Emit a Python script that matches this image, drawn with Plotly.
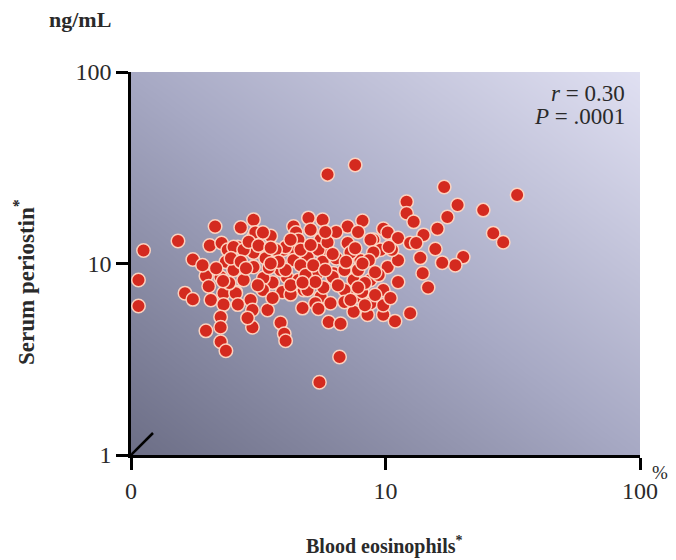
import numpy as np
import plotly.graph_objects as go

# Blood eosinophils (axis value; 1 is labelled "0") and serum periostin (ng/mL)
blood_eos = [1.12, 1.07, 1.07, 1.53, 1.75, 1.63, 1.75, 2.14, 2.70, 3.03,
             2.04, 2.27, 2.40, 2.63, 3.03, 3.03, 3.03, 3.54, 2.36, 1.97,
             2.02, 2.25, 2.31, 2.58, 2.06, 2.31, 2.25, 2.25, 1.97, 2.25,
             2.36, 2.95, 3.00, 3.00, 3.44, 3.87, 4.00, 4.05, 3.60, 4.10,
             4.35, 4.45, 4.35, 4.35, 3.97, 3.87, 4.72, 4.98, 5.66, 5.08,
             5.56, 5.40, 5.92, 6.25, 4.94, 4.77, 5.56, 6.08, 5.98, 6.66,
             7.10, 8.12, 7.10, 7.98, 6.90, 7.50, 7.10, 7.98, 7.50, 8.50,
             8.96, 9.80, 9.56, 10.2, 9.80, 9.80, 10.9, 6.60, 5.50, 7.60,
             5.92, 3.08, 3.30, 4.55, 2.53, 2.77, 4.05, 5.45, 2.53, 2.77,
             3.31, 4.05, 4.55, 4.94, 2.58, 2.63, 3.93, 4.24, 5.30, 2.87,
             12.1, 12.1, 10.2, 11.2, 12.5, 8.73, 8.96, 5.92, 7.29, 5.66,
             11.2, 6.20, 8.73, 11.2, 5.70, 6.90, 8.10, 6.90, 8.73, 9.80,
             12.5, 32.9, 17.0, 19.2, 17.5, 24.2, 12.9, 16.0, 14.1, 26.5,
             29.0, 13.2, 15.7, 13.7, 20.2, 18.8, 16.7, 14.0, 14.7,
             2.47, 2.70, 2.90, 3.17, 3.38, 3.48, 3.70, 3.80, 4.24, 4.64,
             4.85, 5.20, 5.30, 5.80, 6.40, 6.50, 7.00, 7.60, 7.80, 8.30,
             8.60, 9.10, 9.40, 10.46, 10.6, 3.30, 3.60, 3.15, 2.83, 2.43,
             2.16, 4.64, 5.08, 6.40, 7.80, 3.54, 5.80, 4.24, 7.29, 8.30,
             10.3, 1.91, 3.54, 8.12, 4.72, 7.80, 5.45, 2.30, 6.20, 9.10]
periostin = [11.7, 8.2, 6.0, 13.1, 10.5, 7.0, 6.5, 15.6, 15.4, 16.9,
             12.4, 12.8, 11.8, 12.2, 13.8, 11.4, 9.6, 13.9, 10.2, 8.6,
             7.6, 8.5, 7.0, 7.1, 6.45, 6.1, 5.25, 4.65, 4.45, 3.9,
             3.5, 6.45, 5.72, 4.65, 5.72, 4.9, 4.3, 3.95, 7.95, 8.5,
             15.6, 14.5, 11.8, 10.4, 11.8, 9.25, 5.85, 17.3, 16.9, 15.0,
             13.3, 8.9, 11.8, 8.9, 10.8, 7.27, 6.7, 6.2, 4.95, 4.85,
             15.6, 16.7, 12.8, 10.4, 9.25, 8.2, 7.1, 6.7, 5.6, 5.4,
             13.3, 15.2, 11.8, 9.6, 7.27, 5.4, 5.0, 3.25, 2.4, 32.7,
             29.2, 14.5, 14.5, 13.3, 12.2, 11.8, 12.2, 11.8, 9.25, 8.2,
             8.4, 9.25, 8.2, 7.27, 7.0, 6.1, 7.1, 6.9, 6.2, 5.2,
             21.0, 18.3, 14.5, 13.6, 12.8, 13.3, 11.4, 12.9, 11.4, 10.2,
             10.4, 8.5, 8.2, 8.0, 7.5, 7.27, 7.1, 6.3, 6.2, 6.05,
             5.5, 22.8, 25.1, 20.2, 17.5, 19.0, 16.5, 15.2, 14.1, 14.4,
             12.9, 12.8, 11.9, 10.7, 10.8, 9.8, 10.1, 8.9, 7.5,
             10.65, 10.2, 13.0, 12.4, 10.65, 9.5, 11.8, 10.2, 13.3, 9.8,
             8.7, 9.8, 8.0, 9.25, 10.65, 7.7, 10.2, 12.0, 9.25, 7.9,
             10.4, 6.85, 8.7, 6.6, 11.8, 7.27, 6.6, 7.7, 9.45, 7.9,
             9.45, 11.8, 12.5, 14.6, 14.6, 12.1, 14.6, 7.7, 6.45, 6.05,
             12.2, 9.8, 10.0, 10.0, 7.95, 7.5, 5.8, 8.1, 11.2, 9.0]

x_tickvals = [1, 10, 100]
x_ticktext = ["0", "10", "100"]
y_tickvals = [1, 10, 100]
y_ticktext = ["1", "10", "100"]

SERIF = "Liberation Serif, Times New Roman, serif"

# background gradient (dark bottom-left -> light top-right)
n = 80
g = np.linspace(0, 1, n)
Z = (g[None, :] + g[:, None]) / 2.0

fig = go.Figure()
fig.add_trace(go.Heatmap(
    z=Z, x=g, y=g, xaxis="x", yaxis="y",
    colorscale=[[0, "#6c6e86"], [0.5, "#a7a9c4"], [1, "#e0e0f2"]],
    showscale=False, hoverinfo="skip", zsmooth="best"))

fig.add_trace(go.Scatter(
    x=blood_eos, y=periostin, mode="markers", xaxis="x2", yaxis="y2",
    cliponaxis=False, showlegend=False,
    marker=dict(size=13.5, color="#d42a1f",
                line=dict(color="rgba(255,215,195,0.95)", width=1.5))))

axis_common = dict(type="log", range=[0, 2], showgrid=False, zeroline=False,
                   showline=True, linecolor="black", linewidth=2.5,
                   ticks="outside", ticklen=12, tickwidth=2.5, tickcolor="black",
                   tickfont=dict(family=SERIF, size=24, color="#2a2a2a"))

# the page body has an 8 px margin, so the figure is 8 px smaller than the window
fig.update_layout(
    width=668, height=552,
    margin=dict(l=123, r=36, t=64, b=105),
    paper_bgcolor="white", plot_bgcolor="white",
    showlegend=False,
    xaxis=dict(range=[0, 1], visible=False, domain=[0, 1]),
    yaxis=dict(range=[0, 1], visible=False, domain=[0, 1]),
    xaxis2=dict(overlaying="x", anchor="y2", side="bottom",
                tickvals=x_tickvals, ticktext=x_ticktext, **axis_common),
    yaxis2=dict(overlaying="y", anchor="x2", side="left",
                tickvals=y_tickvals, ticktext=y_ticktext, **axis_common),
)

# axis break slash at the origin
fig.add_shape(type="line", xref="x", yref="y", xsizemode="pixel", ysizemode="pixel",
              xanchor=0, yanchor=0, x0=-22, x1=22, y0=-22, y1=22,
              line=dict(color="black", width=2.5))

ann = [
    dict(text="<b>ng/mL</b>", x=-0.10, y=1.136, xanchor="center", yanchor="middle",
         font=dict(family=SERIF, size=22, color="#2a2a2a")),
    dict(text="<b>Serum periostin<sup>*</sup></b>", x=-0.208, y=0.452, textangle=-90,
         xanchor="center", yanchor="middle", font=dict(family=SERIF, size=23, color="#2a2a2a")),
    dict(text="<b>Blood eosinophils<sup>*</sup></b>", x=0.499, y=-0.235,
         xanchor="center", yanchor="middle", font=dict(family=SERIF, size=20, color="#2a2a2a")),
    dict(text="%", x=1.040, y=-0.045, xanchor="center", yanchor="middle",
         font=dict(family=SERIF, size=19, color="#2a2a2a")),
    dict(text="<i>r</i> = 0.30", x=0.974, y=0.943, xanchor="right", yanchor="middle",
         font=dict(family=SERIF, size=23, color="#2a2a2a")),
    dict(text="<i>P</i> = .0001", x=0.974, y=0.883, xanchor="right", yanchor="middle",
         font=dict(family=SERIF, size=23, color="#2a2a2a")),
]
for a in ann:
    fig.add_annotation(xref="paper", yref="paper", showarrow=False, **a)

fig.write_html("out.html")
